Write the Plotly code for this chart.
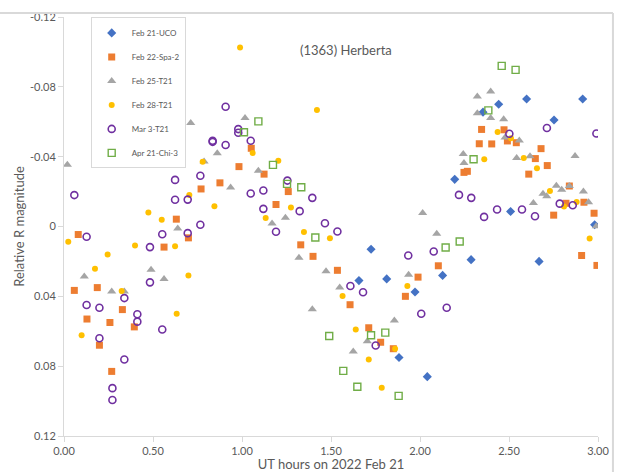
import plotly.graph_objects as go

# ---- photometry (UT hours, relative R magnitude) ----
uco_t = [1.657, 1.725, 1.813, 1.882, 1.972, 2.041, 2.127, 2.195, 2.287, 2.354,
         2.442, 2.509, 2.599, 2.669, 2.753, 2.914, 2.981]
uco_m = [0.031, 0.013, 0.030, 0.075, 0.0375, 0.086, 0.028, -0.027, 0.019, -0.0655,
         -0.070, -0.0086, -0.073, 0.020, -0.061, -0.073, -0.001]

spa_t = [0.058, 0.080, 0.129, 0.187, 0.199, 0.258, 0.268, 0.328, 0.395, 0.562,
         0.631, 0.699, 0.770, 0.876, 0.983, 1.052, 1.124, 1.191, 1.260, 1.330,
         1.399, 1.536, 1.607, 1.712, 1.779, 1.850, 1.918, 1.989, 2.103, 2.247,
         2.266, 2.333, 2.346, 2.403, 2.472, 2.491, 2.541, 2.611, 2.648, 2.680,
         2.715, 2.751, 2.820, 2.839, 2.908, 2.921, 2.978, 2.994]
spa_m = [0.0366, 0.0046, 0.053, 0.035, 0.068, 0.055, 0.083, 0.0476, 0.0575, 0.0118,
         -0.0042, 0.0065, -0.0215, -0.025, -0.0343, -0.0448, -0.030, -0.0126, -0.020, 0.0105,
         0.0171, 0.0251, 0.0448, 0.058, 0.0663, 0.070, 0.040, 0.029, 0.0225, -0.031,
         -0.0316, -0.0474, -0.0556, -0.0473, -0.0554, -0.049, -0.048, -0.030, -0.0389, -0.0446,
         -0.0349, -0.0065, -0.0133, -0.0232, 0.0166, -0.0139, -0.0076, 0.0223]

t21a_t = [0.019, 0.114, 0.268, 0.339, 0.489, 0.562, 0.639, 0.712, 0.787, 0.861,
          0.936, 1.017, 1.092, 1.169, 1.244, 1.320, 1.395, 1.472, 1.549, 1.625,
          1.704, 1.856, 1.936, 2.015, 2.094, 2.243, 2.247, 2.322, 2.322, 2.397,
          2.397, 2.470, 2.478, 2.543, 2.558, 2.618, 2.637, 2.691, 2.712, 2.766,
          2.796, 2.839, 2.871, 2.918, 2.947, 2.990]
t21a_m = [-0.0354, 0.0286, 0.0373, 0.0373, 0.0248, 0.030, 0.0011, -0.0593, -0.0373, -0.0419,
          -0.0223, -0.0621, -0.032, -0.0017, -0.005, 0.0179, 0.0474, 0.0257, 0.035, 0.0716,
          0.0657, 0.0539, 0.0276, -0.0078, 0.0042, -0.0415, -0.0364, -0.0745, -0.0648, -0.0773,
          -0.0621, -0.0615, -0.051, -0.0392, -0.0493, -0.0402, -0.0135, -0.0187, -0.0173, -0.0234,
          -0.0211, -0.0232, -0.0404, -0.020, -0.0139, -0.0002]

t21b_t = [0.024, 0.099, 0.174, 0.245, 0.324, 0.399, 0.474, 0.549, 0.624, 0.633,
          0.699, 0.704, 0.779, 0.845, 0.989, 1.060, 1.133, 1.204, 1.275, 1.348,
          1.421, 1.494, 1.565, 1.639, 1.712, 1.785, 1.860, 1.929, 2.361, 2.436,
          2.511, 2.583, 2.657, 2.730, 2.809, 2.880, 2.953]
t21b_m = [0.0088, 0.0623, 0.0242, 0.016, 0.037, 0.0109, -0.008, -0.0038, 0.0113, 0.050,
          0.028, -0.018, -0.0371, -0.0116, -0.1025, -0.0421, -0.0048, -0.0377, -0.0109, 0.0032,
          -0.0667, 0.0067, 0.0398, 0.059, 0.0762, 0.0924, 0.070, 0.0341, -0.0385, -0.0541,
          -0.0505, -0.0392, -0.0333, -0.0204, -0.0114, -0.0141, 0.0069]

t21c_t = [0.058, 0.127, 0.127, 0.199, 0.199, 0.272, 0.272, 0.339, 0.339, 0.412,
          0.412, 0.483, 0.483, 0.552, 0.552, 0.624, 0.624, 0.695, 0.695, 0.766,
          0.766, 0.835, 0.835, 0.908, 0.908, 0.979, 0.979, 1.049, 1.049, 1.120,
          1.120, 1.191, 1.255, 1.324, 1.395, 1.466, 1.536, 1.609, 1.680, 1.751,
          1.934, 2.007, 2.077, 2.150, 2.219, 2.288, 2.360, 2.433, 2.502, 2.573,
          2.646, 2.713, 2.785, 2.858, 2.991]
t21c_m = [-0.018, 0.0059, 0.045, 0.0465, 0.064, 0.0926, 0.0994, 0.041, 0.0762, 0.0503,
          0.0545, 0.0118, 0.032, 0.0044, 0.059, -0.0267, -0.0153, -0.0154, 0.0038, -0.0291,
          -0.001, -0.0491, -0.0485, -0.0686, -0.0467, -0.0558, -0.0537, -0.0491, -0.0189, -0.0206,
          -0.0101, 0.003, -0.0263, -0.0088, -0.0164, -0.0019, 0.0029, 0.0341, 0.0377, 0.0682,
          0.0166, 0.050, 0.0143, 0.0465, -0.0181, -0.0164, -0.0055, -0.0097, -0.0531, -0.0097,
          -0.0059, -0.0564, -0.0131, -0.0122, -0.0533]

chi_t = [1.011, 1.092, 1.174, 1.253, 1.333, 1.412, 1.490, 1.569, 1.648, 1.725,
         1.805, 1.880, 2.144, 2.223, 2.301, 2.384, 2.459, 2.537]
chi_m = [-0.054, -0.0602, -0.0353, -0.0244, -0.0225, 0.0063, 0.0627, 0.0827, 0.0918, 0.0623,
         0.0608, 0.097, 0.012, 0.0086, -0.0385, -0.0665, -0.092, -0.0897]

x_ticks = [0.0, 0.5, 1.0, 1.5, 2.0, 2.5, 3.0]
y_ticks = [-0.12, -0.08, -0.04, 0.0, 0.04, 0.08, 0.12]
y_tick_text = ["-0.12", "-0.08", "-0.04", "0", "0.04", "0.08", "0.12"]

series = [
    ("Feb 21-UCO", uco_t, uco_m,
     dict(symbol="diamond", size=7, color="#4472C4")),
    ("Feb 22-Spa-2", spa_t, spa_m,
     dict(symbol="square", size=7, color="#ED7D31")),
    ("Feb 25-T21", t21a_t, t21a_m,
     dict(symbol="triangle-up", size=8, color="#A5A5A5")),
    ("Feb 28-T21", t21b_t, t21b_m,
     dict(symbol="circle", size=6, color="#FFC000")),
    ("Mar 3-T21", t21c_t, t21c_m,
     dict(symbol="circle-open", size=7, color="#7030A0", line=dict(width=1.6))),
    ("Apr 21-Chi-3", chi_t, chi_m,
     dict(symbol="square-open", size=7, color="#70AD47", line=dict(width=1.4))),
]

fig = go.Figure()
for name, t, m, mk in series:
    fig.add_trace(go.Scatter(x=t, y=m, mode="markers", name=name,
                             legendgroup=name, marker=mk))

grey = "#d9d9d9"
txt = "#595959"
font = "Lato, 'Open Sans', sans-serif"

fig.update_layout(
    width=617, height=472,
    margin=dict(l=64, r=19, t=17, b=36),
    paper_bgcolor="white", plot_bgcolor="white",
    font=dict(family=font, color=txt, size=11),
    showlegend=True,
    legend=dict(x=0.05, y=0.999, xanchor="left", yanchor="top",
                bgcolor="white", bordercolor=grey, borderwidth=1,
                font=dict(size=8, color=txt), itemwidth=30,
                tracegroupgap=5),
    annotations=[dict(text="(1363) Herberta", x=0.528, y=0.945,
                      xref="paper", yref="paper", showarrow=False,
                      font=dict(size=13, color=txt))],
    shapes=[
        dict(type="line", xref="paper", yref="paper", x0=-0.2, x1=1.028,
             y0=1.0095, y1=1.0095, line=dict(color=grey, width=2)),
        dict(type="line", xref="paper", yref="paper", x0=1.028, x1=1.028,
             y0=1.0095, y1=-0.2, line=dict(color=grey, width=2)),
    ],
)

fig.update_xaxes(range=[0, 3.0], tickvals=x_ticks, tickformat=".2f",
                 automargin=False,
                 showgrid=False, zeroline=False, showline=True, linecolor=grey,
                 linewidth=1, ticks="outside", ticklen=5, tickcolor=grey,
                 tickfont=dict(size=11, color=txt),
                 title=dict(text="UT hours on 2022 Feb 21", standoff=4,
                            font=dict(size=13, color=txt)))
fig.update_yaxes(range=[0.12, -0.12], tickvals=y_ticks, ticktext=y_tick_text,
                 automargin=False,
                 showgrid=False, zeroline=False, showline=True, linecolor=grey,
                 linewidth=1, ticks="outside", ticklen=5, tickcolor=grey,
                 tickfont=dict(size=11, color=txt),
                 title=dict(text="Relative R magnitude", standoff=2,
                            font=dict(size=13, color=txt)))

fig.write_html("out.html")
